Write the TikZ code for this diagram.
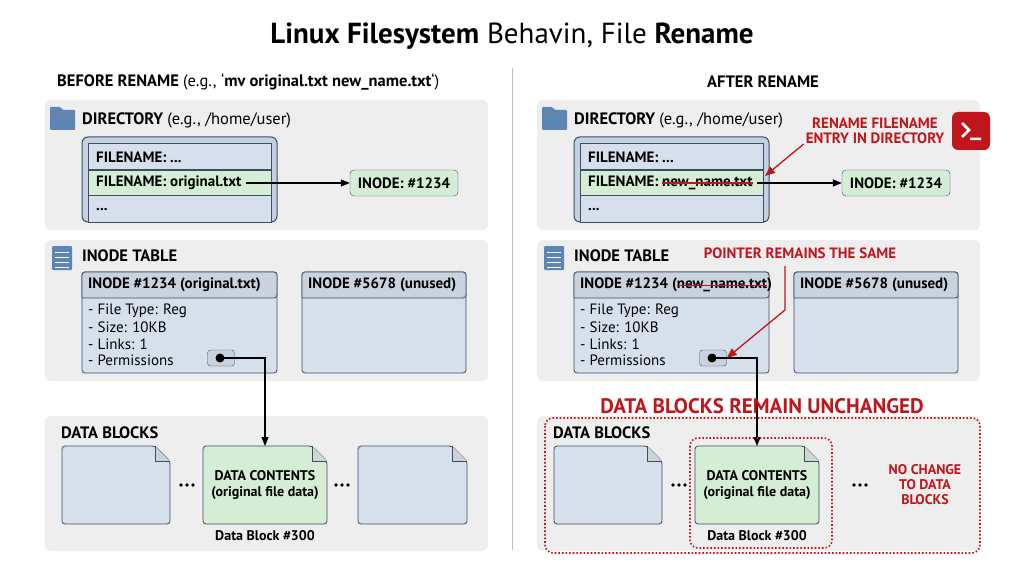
\documentclass[tikz,border=0pt]{standalone}
\usepackage{fontspec}
\setmainfont{PT Sans}
\usetikzlibrary{arrows.meta}
\definecolor{panelc}{HTML}{EEEEEE}
\definecolor{blueb}{HTML}{D5E0EC}
\definecolor{bluec}{HTML}{C3D1E2}
\definecolor{hdrc}{HTML}{C9D3DF}
\definecolor{greenc}{HTML}{D4EDD4}
\definecolor{edgec}{HTML}{3E4E60}
\definecolor{redc}{HTML}{C0161B}
\definecolor{iconc}{HTML}{5B86B5}
\newcommand\strk[1]{\setbox0\hbox{#1}\rlap{\usebox0}{\color{redc}\rule[0.3\ht0]{\wd0}{1.3pt}}}
\tikzset{
  panel/.style={fill=panelc, rounded corners=6pt, draw=none},
  row/.style={draw=edgec, line width=0.8pt, anchor=north west, minimum width=183pt, minimum height=26pt, inner sep=0pt},
  lbl/.style={anchor=west, inner sep=0pt, font=\bfseries\fontsize{15}{16}\selectfont},
  body/.style={anchor=west, inner sep=0pt, font=\fontsize{15}{16}\selectfont},
  head/.style={anchor=west, inner sep=0pt, font=\bfseries\fontsize{16.5}{19}\selectfont},
  note/.style={text=redc, font=\bfseries\fontsize{15}{15}\selectfont, align=center, inner sep=0pt},
  ptr/.style={-{Triangle[length=9pt,width=7pt]}, line width=1.1pt},
  rptr/.style={-{Triangle[length=10pt,width=8pt]}, line width=1.3pt, redc},
  blk/.style={draw=edgec, line width=0.8pt, rounded corners=3pt},
  dots/.pic={\foreach \d in {-6,0,6} \fill (\d,0) circle (1.8);},
}
\newcommand\datablock[4]{% x, width, colour, name
  \draw[blk, fill=#3] (#1,446) -- (#1+#2-15,446) -- (#1+#2,461) -- (#1+#2,524) -- (#1,524) -- cycle;
  \draw[edgec, line width=0.8pt, fill=#3!70!edgec!60] (#1+#2-15,446) -- (#1+#2-15,461) -- (#1+#2,461);
  \coordinate (#4) at (#1+#2/2,446);}
\begin{document}
\begin{tikzpicture}[x=1pt,y=-1pt]
\useasboundingbox (0,0) rectangle (1024,572);
\fill[white] (0,0) rectangle (1024,572);
\node (title) at (512,36) {\fontsize{29}{32}\selectfont\textbf{Linux Filesystem} Behavin, File \textbf{Rename}};
\draw[gray!50, line width=1pt] (512,68) -- (512,550);
\node[head] (beforeh) at (57,82) {BEFORE RENAME \mdseries(e.g., `\bfseries mv original.txt new\_name.txt\mdseries`)};
\node[head, anchor=center] (afterh) at (763,82) {AFTER RENAME};
\foreach \s/\dx/\fn in {L/0/original.txt, R/492/{\strk{new\_name.txt}}}{
\begin{scope}[xshift=\dx]
% directory
\fill[panel] (45,100) rectangle (488,230);
\fill[iconc, rounded corners=1pt] (50,110) -- (50,107) -- (60,107) -- (63,110) -- (75,110) -- (75,130) -- (50,130) -- cycle;
\draw[edgec!70] (50,113) -- (75,113);
\node[head] (dir\s) at (82,120) {DIRECTORY \mdseries(e.g., /home/user)};
\draw[fill=bluec, draw=edgec, line width=1pt, rounded corners=6pt] (82,137) rectangle (277,222);
\node[row, fill=blueb] (f1\s) at (88,143) {};
\node[row, fill=greenc] (f2\s) at (88,170) {};
\node[row, fill=blueb, minimum height=27pt] (f3\s) at (88,195) {};
\node[lbl] at (96,157) {FILENAME: ...};
\node[lbl] (fn\s) at (96,183) {FILENAME: \fn};
\node[lbl] at (96,210) {...};
\node[draw=edgec, fill=greenc, rounded corners=4pt, minimum width=108pt, minimum height=26pt, font=\bfseries\fontsize{15}{16}\selectfont] (ino\s) at (404,183) {INODE: \#1234};
\draw[ptr] (fn\s.east) ++(4,0) -- (ino\s.west);
% inode table
\fill[panel] (45,240) rectangle (488,381);
\fill[iconc, rounded corners=1pt] (52,246) rectangle (72,270);
\foreach \yy in {252,257,262,267} \draw[white, line width=0.8pt] (55,\yy) -- (69,\yy);
\node[head] (itab\s) at (82,256) {INODE TABLE};
\draw[blk, fill=blueb] (82,272) rectangle (277,373);
\draw[blk, fill=hdrc, sharp corners] (82,298) -- (82,275) [rounded corners=3pt] -- (82,272) -- (277,272) -- (277,298) [sharp corners] -- cycle;
\draw[blk, fill=blueb] (302,272) rectangle (466,373);
\draw[blk, fill=hdrc, sharp corners] (302,298) -- (302,275) [rounded corners=3pt] -- (302,272) -- (466,272) -- (466,298) [sharp corners] -- cycle;
\node[lbl] (ih2\s) at (308,285) {INODE \#5678 (unused)};
\node[body] at (88,311) {- File Type: Reg};
\node[body] at (88,327) {- Size: 10KB};
\node[body] at (88,344) {- Links: 1};
\node[body] at (88,360) {- Permissions};
\node[draw=edgec, fill=hdrc, rounded corners=3pt, minimum width=27pt, minimum height=16pt, inner sep=0pt] (pb\s) at (221,358) {};
\coordinate (pd\s) at (220,358);
% data blocks
\fill[panel] (45,416) rectangle (488,551);
\node[head] (db\s) at (61,433) {DATA BLOCKS};
\datablock{62}{108}{blueb}{blka\s}
\datablock{203}{124}{greenc}{blkb\s}
\pic at (187,485) {dots};
\node[font=\bfseries\fontsize{14}{16}\selectfont, align=center] (dc\s) at (265,485) {DATA CONTENTS\\(original file data)};
\node[font=\bfseries\fontsize{14}{15}\selectfont] (dbn\s) at (265,536) {Data Block \#300};
\draw[ptr] (pd\s) -| (blkb\s);
\end{scope}
}
\fill[black] (pdL) circle (4.5);
\fill[black] (pdR) circle (4.5);
\datablock{358}{109}{blueb}{blkcL}
\pic at (342,485) {dots};
\pic at (860,485) {dots};
\node[lbl] (ih1L) at (88,285) {INODE \#1234 (original.txt)};
\node[lbl] (ih1R) at (580,285) {INODE \#1234 (\strk{new\_name.txt})};
% annotations on the right
\node[note] (rnote) at (875,131) {RENAME FILENAME\\ENTRY IN DIRECTORY};
\node[fill=redc, rounded corners=6pt, minimum size=38pt, inner sep=0pt] (term) at (971,131) {};
\draw[white, line width=2.5pt] (962,123) -- (969,130) -- (962,137) (970,139) -- (981,139);
\coordinate (rtip) at (765,176);
\draw[rptr] (rnote.south west) ++(-2,0) -- (rtip);
\node[note] (pnote) at (800,253) {POINTER REMAINS THE SAME};
\coordinate (pbend) at (785,310);
\draw[rptr] (785,266) -- (pbend) -- (pbR.east);
\node[note, font=\bfseries\fontsize{21}{21}\selectfont] (dnote) at (762,406) {DATA BLOCKS REMAIN UNCHANGED};
\draw[redc, dotted, line width=1.6pt, rounded corners=8pt] (545,418) rectangle (980,553);
\draw[redc, dotted, line width=1.6pt, rounded corners=8pt] (690,438) rectangle (832,548);
\node[note, font=\bfseries\fontsize{14}{15}\selectfont] (nc) at (925,485) {NO CHANGE\\TO DATA\\BLOCKS};
\end{tikzpicture}
\end{document}
